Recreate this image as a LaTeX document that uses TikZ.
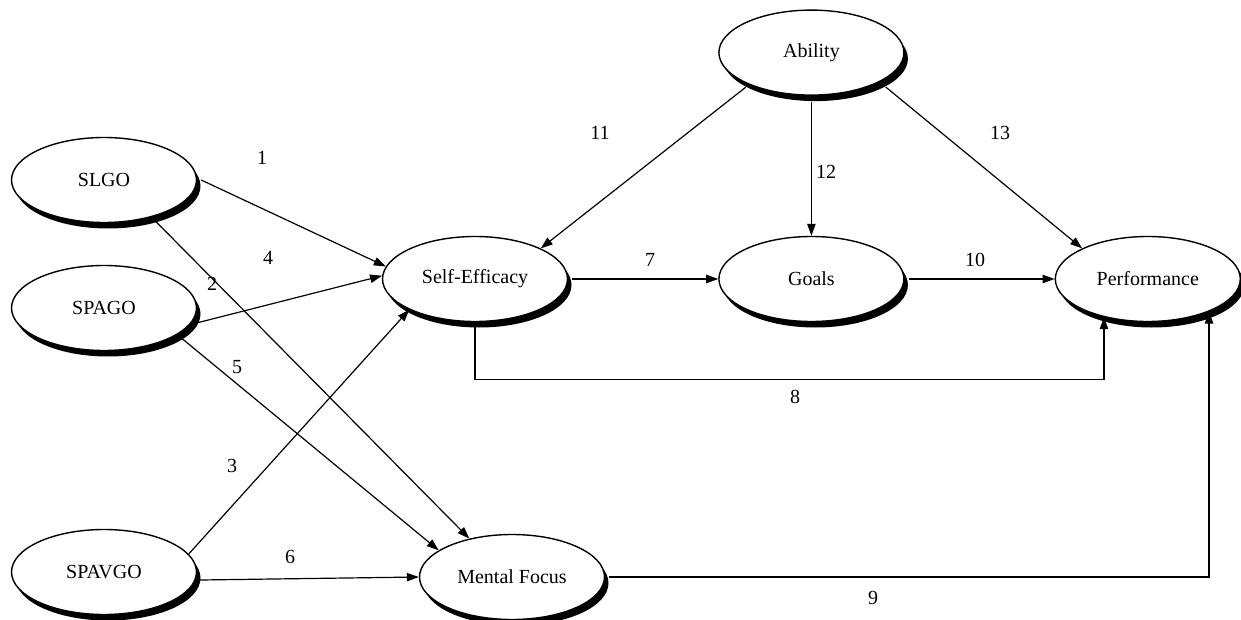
\documentclass[tikz,border=0pt]{standalone}
\usepackage{fontspec}
\setmainfont{Liberation Serif}
\usepackage{tikz}
\usetikzlibrary{arrows.meta,positioning,shapes.geometric,shadows}
\tikzset{
  construct/.style={ellipse, draw=black, line width=0.7pt, fill=white,
    minimum width=92.5pt, minimum height=42.5pt, inner sep=0pt,
    drop shadow={shadow xshift=2pt, shadow yshift=-3pt, fill=black, opacity=1},
    font=\fontsize{10}{12}\selectfont},
  lbl/.style={font=\fontsize{10}{12}\selectfont, inner sep=0pt},
  path/.style={-{Triangle[length=6pt,width=4.2pt]}, line width=0.6pt}
}

\begin{document}
\begin{tikzpicture}[x=0.5pt, y=-0.5pt, node distance=70pt and 75pt]
  \useasboundingbox (0,0) rectangle (1241,620);

  % orientations
  \node[construct] (slgo) at (104,180) {SLGO};
  \node[construct] (spago) at (104,308) {SPAGO};
  \node[construct] (spavgo) at (104,572) {SPAVGO};

  % mediators and outcome
  \node[construct] (se) at (475,279) {Self-Efficacy};
  \node[construct, right=of se] (goals) {Goals};
  \node[construct, right=of goals] (perf) {Performance};
  \node[construct, above=of goals] (ability) {Ability};
  \node[construct] (mf) at (512,577) {Mental Focus};

  % paths
  \draw[path] ([xshift=2pt]slgo.east) -- (se.172);
  \draw[path] (slgo.-38) -- (mf.138);
  \draw[path] ([xshift=2pt]spago.-10) -- (se.178);
  \draw[path] (spago.-20) -- (mf.160);
  \draw[path] (spavgo.12) -- (se.205);
  \draw[path] ([xshift=2pt]spavgo.-5) -- (mf.west);
  \draw[path] ([yshift=-2pt]ability.205) -- (se.25);
  \draw[path] ([yshift=-3pt]ability.south) -- (goals.north);
  \draw[path] ([shift={(2pt,-3pt)}]ability.-22) -- (perf.155);
  \draw[path] ([xshift=2pt]se.east) -- (goals.west);
  \draw[path] ([xshift=2pt]goals.east) -- (perf.west);
  \draw[path] (se.south) -- ++(0,57) -| (perf.221);
  \draw[path] ([xshift=2pt]mf.east) -| (perf.-28);

  % path numbers
  \foreach \t/\x/\y in {1/262/158, 2/212/284, 3/232/466, 4/268/258, 5/237/367,
      6/290/557, 7/650/260, 8/795/397, 9/873/598, 10/975/260, 11/600/133,
      12/826/172, 13/1000/133}
    \node[lbl] (n\t) at (\x,\y) {\t};
\end{tikzpicture}
\end{document}
